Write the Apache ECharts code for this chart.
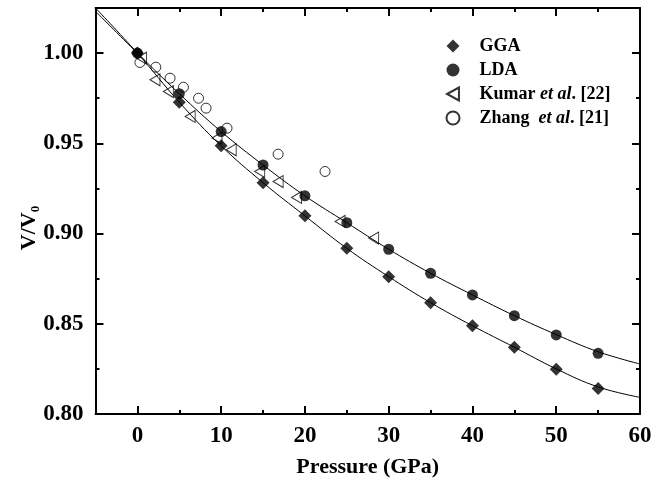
<!DOCTYPE html>
<html>
<head>
<meta charset="utf-8">
<script src="https://cdn.jsdelivr.net/npm/echarts@6/dist/echarts.min.js"></script>
<style>html,body{margin:0;padding:0;background:#fff}#c{width:666px;height:486px}</style>
</head>
<body>
<div id="c"></div>
<script>
// ---- data ----
const pressure = [0, 5, 10, 15, 20, 25, 30, 35, 40, 45, 50, 55];
const ggaValues = [1.000, 0.9728, 0.9486, 0.9282, 0.9098, 0.8918, 0.8761, 0.8617, 0.8489, 0.8370, 0.8248, 0.8141];
const ldaValues = [1.000, 0.9775, 0.9565, 0.9380, 0.9209, 0.9060, 0.8913, 0.8780, 0.8660, 0.8545, 0.8438, 0.8336];

const fitPressure = [-5, 0, 5, 10, 15, 20, 25, 30, 35, 40, 45, 50, 55, 60];
const ggaFit = [1.0250, 1.000, 0.9728, 0.9486, 0.9282, 0.9098, 0.8918, 0.8761, 0.8617, 0.8489, 0.8370, 0.8250, 0.8150, 0.8092];
const ldaFit = [1.0232, 1.000, 0.9775, 0.9565, 0.9380, 0.9209, 0.9060, 0.8913, 0.8780, 0.8660, 0.8545, 0.8440, 0.8345, 0.8277];

const kumarP = [0.5, 2.1, 3.7, 6.3, 9.5, 11.2, 14.6, 16.8, 19.0, 24.2, 28.2];
const kumarV = [0.9972, 0.9852, 0.9787, 0.9649, 0.9529, 0.9464, 0.9344, 0.9288, 0.9200, 0.9067, 0.8975];

const zhangP = [0.3, 2.2, 3.9, 5.5, 7.3, 8.2, 10.7, 16.8, 22.4];
const zhangV = [0.9948, 0.9922, 0.9861, 0.9811, 0.9750, 0.9695, 0.9584, 0.9440, 0.9344];

const xMajorTicks = [0, 10, 20, 30, 40, 50, 60];
const xMinorTicks = [5, 15, 25, 35, 45, 55];
const yMajorTicks = [0.80, 0.85, 0.90, 0.95, 1.00];
const yMinorTicks = [0.825, 0.875, 0.925, 0.975];

const seriesNames = ['GGA', 'LDA', 'Kumar', 'Zhang'];
const legendLabels = {
  GGA: '{b|GGA}',
  LDA: '{b|LDA}',
  Kumar: '{b|Kumar }{i|et al}{b|. [22]}',
  Zhang: '{b|Zhang  }{i|et al}{b|. [21]}'
};

// ---- chart ----
const FONT = '"Liberation Serif", "Times New Roman", serif';
const zip = (a, b) => a.map((v, i) => [v, b[i]]);
const chart = echarts.init(document.getElementById('c'), null, {renderer: 'canvas'});

function xAxisDef(pos, ticks, len, withLabel, showLine) {
  return {
    type: 'value', position: pos, min: -5, max: 60,
    axisLine: {show: showLine, onZero: false, lineStyle: {color: '#000', width: 2}},
    axisTick: {show: true, inside: true, length: len, customValues: ticks, lineStyle: {color: '#000', width: 2}},
    axisLabel: withLabel ? {show: true, customValues: xMajorTicks, margin: 11, color: '#000',
      fontFamily: FONT, fontWeight: 'bold', fontSize: 23} : {show: false},
    splitLine: {show: false},
    name: withLabel ? 'Pressure (GPa)' : '',
    nameLocation: 'middle', nameGap: 42,
    nameTextStyle: {fontFamily: FONT, fontWeight: 'bold', fontSize: 22, color: '#000'}
  };
}
function yAxisDef(pos, ticks, len, withLabel, showLine) {
  return {
    type: 'value', position: pos, min: 0.80, max: 1.025,
    axisLine: {show: showLine, onZero: false, lineStyle: {color: '#000', width: 2}},
    axisTick: {show: true, inside: true, length: len, customValues: ticks, lineStyle: {color: '#000', width: 2}},
    axisLabel: withLabel ? {show: true, customValues: yMajorTicks, margin: 12, color: '#000',
      fontFamily: FONT, fontWeight: 'bold', fontSize: 23, formatter: v => v.toFixed(2)} : {show: false},
    splitLine: {show: false}
  };
}

const option = {
  backgroundColor: '#fff',
  animation: false,
  grid: {left: 95.5, right: 26, top: 8, bottom: 72, containLabel: false},
  xAxis: [
    xAxisDef('bottom', xMajorTicks, 8, true, true),
    xAxisDef('bottom', xMinorTicks, 4, false, false),
    xAxisDef('top', xMajorTicks, 8, false, true),
    xAxisDef('top', xMinorTicks, 4, false, false)
  ],
  yAxis: [
    yAxisDef('left', yMajorTicks, 8, true, true),
    yAxisDef('left', yMinorTicks, 4, false, false),
    yAxisDef('right', yMajorTicks, 8, false, true),
    yAxisDef('right', yMinorTicks, 4, false, false)
  ],
  legend: {
    orient: 'vertical', left: 440.5, top: 32,
    itemWidth: 13, itemHeight: 13, itemGap: 6,
    data: seriesNames,
    formatter: name => legendLabels[name],
    textStyle: {
      color: '#000', fontFamily: FONT, fontSize: 18, fontWeight: 'bold', lineHeight: 18, padding: [0, 0, 0, 15],
      rich: {
        b: {fontFamily: FONT, fontSize: 18, fontWeight: 'bold', color: '#000'},
        i: {fontFamily: FONT, fontSize: 18, fontWeight: 'bold', fontStyle: 'italic', color: '#000'}
      }
    }
  },
  graphic: [{
    type: 'text', x: 29, y: 228, rotation: Math.PI / 2,
    style: {
      text: '{a|V/V}{s|0}', x: 0, y: 0, align: 'center', verticalAlign: 'middle',
      rich: {
        a: {fontFamily: FONT, fontSize: 22, fontWeight: 'bold', fill: '#000', lineHeight: 26},
        s: {fontFamily: FONT, fontSize: 13, fontWeight: 'bold', fill: '#000', lineHeight: 26, verticalAlign: 'bottom'}
      }
    }
  }],
  series: [
    {type: 'line', name: 'ggaFit', data: zip(fitPressure, ggaFit), smooth: 0.4, showSymbol: false,
     symbol: 'none', lineStyle: {color: '#000', width: 1}, z: 2, silent: true},
    {type: 'line', name: 'ldaFit', data: zip(fitPressure, ldaFit), smooth: 0.4, showSymbol: false,
     symbol: 'none', lineStyle: {color: '#000', width: 1}, z: 2, silent: true},
    {type: 'scatter', name: 'GGA', data: zip(pressure, ggaValues), symbol: 'diamond', symbolSize: 13,
     itemStyle: {color: '#000'}, z: 5},
    {type: 'scatter', name: 'LDA', data: zip(pressure, ldaValues), symbol: 'circle', symbolSize: 11,
     itemStyle: {color: '#000'}, z: 5},
    {type: 'scatter', name: 'Kumar', data: zip(kumarP, kumarV), symbol: 'path://M0,6 L11,0 L11,12 Z',
     symbolSize: [10, 12], itemStyle: {color: 'rgba(0,0,0,0)', borderColor: '#000', borderWidth: 1}, z: 4},
    {type: 'scatter', name: 'Zhang', data: zip(zhangP, zhangV), symbol: 'circle', symbolSize: 10,
     itemStyle: {color: 'rgba(0,0,0,0)', borderColor: '#000', borderWidth: 1}, z: 4}
  ]
};
chart.setOption(option);
</script>
</body>
</html>
